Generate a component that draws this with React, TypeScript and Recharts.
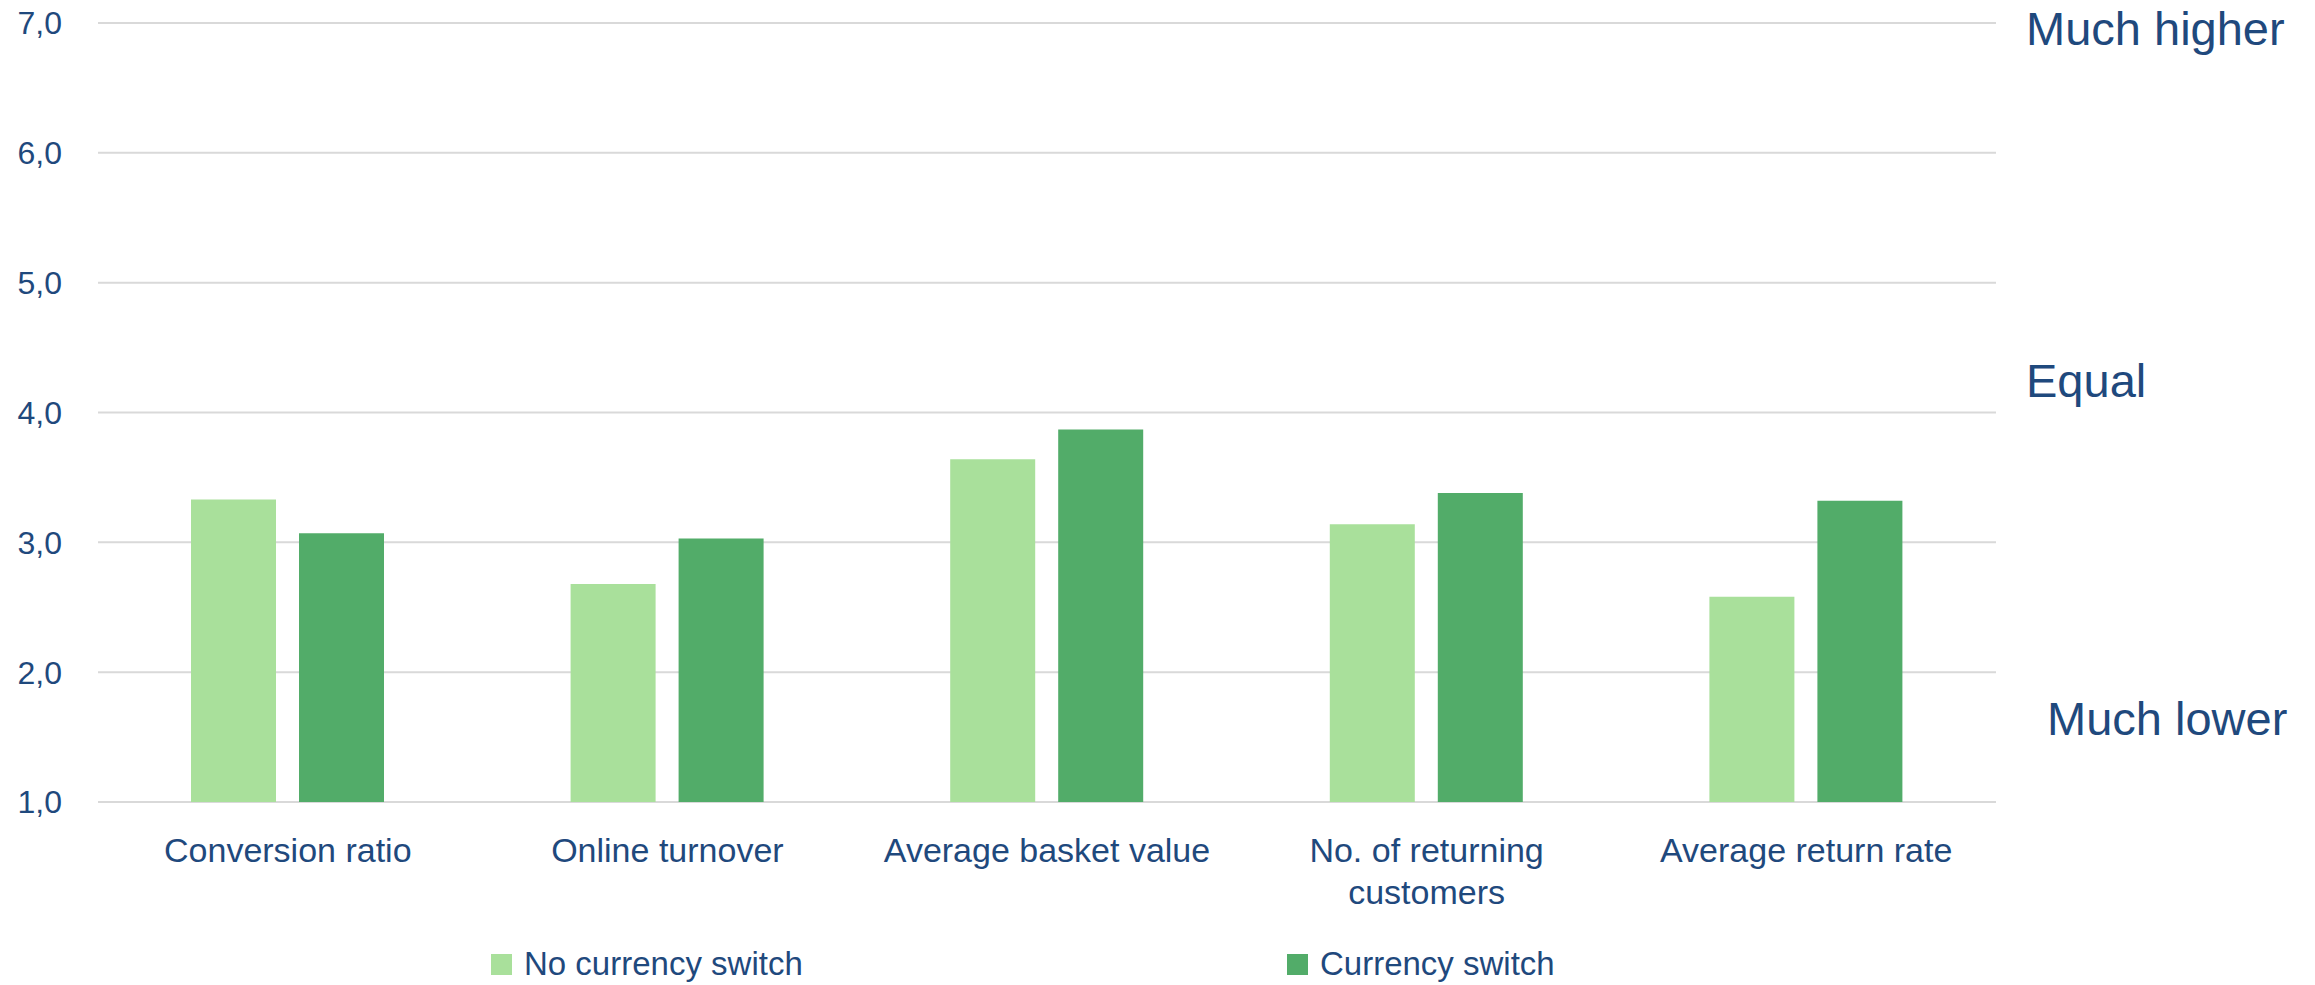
import React from "react";
import { Bar, BarChart, CartesianGrid, Legend, XAxis, YAxis } from "recharts";

const categories = [
  "Conversion ratio",
  "Online turnover",
  "Average basket value",
  "No. of returning customers",
  "Average return rate",
];
const noSwitch = [3.33, 2.68, 3.64, 3.14, 2.58];
const withSwitch = [3.07, 3.03, 3.87, 3.38, 3.32];
const yTicks = [1, 2, 3, 4, 5, 6, 7];
const seriesNames = ["No currency switch", "Currency switch"];
const scaleLabels = ["Much higher", "Equal", "Much lower"];

const data = categories.map((name, i) => ({
  name,
  noSwitch: noSwitch[i],
  withSwitch: withSwitch[i],
}));

const FONT = "'Liberation Sans', Arial, sans-serif";
const BLUE = "#1F497D";
const LIGHT = "#A9E09B";
const DARK = "#52AC69";

// greedy wrap by character count, long labels go on two lines
const wrap = (s: string, max = 22) => {
  const lines: string[] = [];
  let cur = "";
  s.split(" ").forEach((w) => {
    const next = cur ? cur + " " + w : w;
    if (next.length > max && cur) {
      lines.push(cur);
      cur = w;
    } else cur = next;
  });
  if (cur) lines.push(cur);
  return lines;
};

const CategoryTick = ({ x, y, payload }: any) => (
  <text x={x} y={y} textAnchor="middle" fill={BLUE} fontSize={34} fontFamily={FONT}>
    {wrap(payload.value).map((line, i) => (
      <tspan key={i} x={x} dy={i === 0 ? 24 : 42}>
        {line}
      </tspan>
    ))}
  </text>
);

const LegendContent = ({ payload }: any) => {
  const lefts = [491, 1287];
  const items = [...(payload || [])].sort(
    (a: any, b: any) => seriesNames.indexOf(a.value) - seriesNames.indexOf(b.value)
  );
  return (
    <div style={{ position: "relative", width: 2315, height: 40 }}>
      {items.map((p: any, i: number) => (
        <div
          key={p.value}
          style={{
            position: "absolute",
            left: lefts[i],
            top: 0,
            display: "flex",
            alignItems: "center",
            fontFamily: FONT,
            fontSize: 33,
            color: BLUE,
            whiteSpace: "nowrap",
          }}
        >
          <span style={{ width: 21, height: 21, background: p.color, marginRight: 12, display: "inline-block" }} />
          {p.value}
        </div>
      ))}
    </div>
  );
};

export default function App() {
  return (
    <div style={{ position: "absolute", left: 0, top: 0, width: 2315, height: 985, background: "#fff" }}>
      <BarChart
        width={2315}
        height={985}
        data={data}
        margin={{ top: 23, right: 319, left: 0, bottom: 123 }}
        barSize={85}
        barGap={23}
      >
        <CartesianGrid vertical={false} stroke="#D9D9D9" strokeWidth={2} />
        <XAxis
          dataKey="name"
          axisLine={false}
          tickLine={false}
          tickSize={0}
          tickMargin={36}
          height={60}
          interval={0}
          tick={<CategoryTick />}
        />
        <YAxis
          domain={[1, 7]}
          ticks={yTicks}
          width={98}
          axisLine={false}
          tickLine={false}
          tickSize={0}
          tickMargin={36}
          tickFormatter={(v: number) => v.toFixed(1).replace(".", ",")}
          tick={{ fontSize: 32, fill: BLUE, fontFamily: FONT }}
        />
        <Legend
          layout="horizontal"
          verticalAlign="middle"
          align="center"
          wrapperStyle={{ left: 0, top: 945, width: 2315 }}
          content={<LegendContent />}
        />
        <Bar dataKey="noSwitch" name={seriesNames[0]} fill={LIGHT} isAnimationActive={false} />
        <Bar dataKey="withSwitch" name={seriesNames[1]} fill={DARK} isAnimationActive={false} />
      </BarChart>
      <svg
        width={2315}
        height={985}
        style={{ position: "absolute", left: 0, top: 0, pointerEvents: "none" }}
      >
        <text x={2026} y={45} fontSize={47} fill={BLUE} fontFamily={FONT}>{scaleLabels[0]}</text>
        <text x={2026} y={397} fontSize={47} fill={BLUE} fontFamily={FONT}>{scaleLabels[1]}</text>
        <text x={2047} y={735} fontSize={47} fill={BLUE} fontFamily={FONT}>{scaleLabels[2]}</text>
      </svg>
    </div>
  );
}
